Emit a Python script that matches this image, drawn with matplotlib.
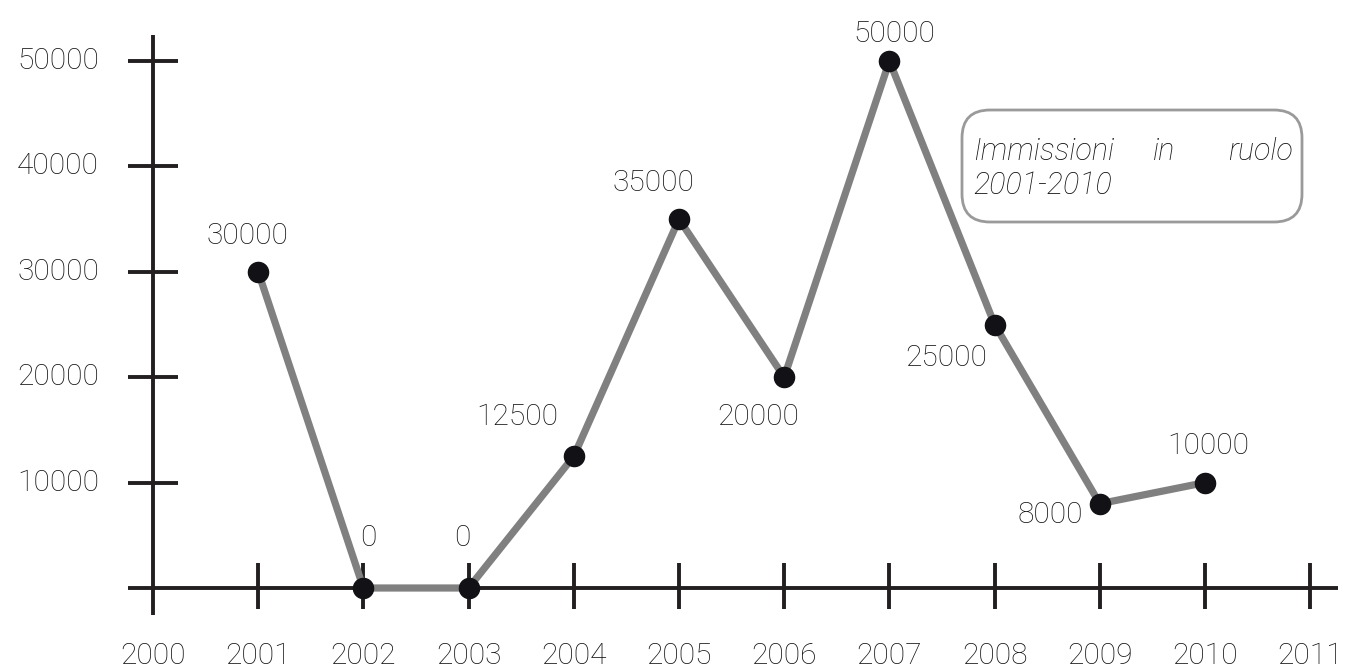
import matplotlib
matplotlib.use("Agg")
import matplotlib.pyplot as plt
from matplotlib.patches import FancyBboxPatch

# Data: teacher hirings per year
years = [2001, 2002, 2003, 2004, 2005, 2006, 2007, 2008, 2009, 2010]
hirings = [30000, 0, 0, 12500, 35000, 20000, 50000, 25000, 8000, 10000]
value_labels = ["30000", "0", "0", "12500", "35000", "20000", "50000", "25000", "8000", "10000"]
x_ticks = list(range(2000, 2012))
y_ticks = [10000, 20000, 30000, 40000, 50000]

# label offsets (pixels) for each point
label_offsets = [(-11, 36), (5, 50), (-6, 50), (-57, 39), (-26, 36), (-26, -40), (5, 27), (-48, -33), (-50, -11), (3, 37)]

plt.rcParams['font.family'] = ['Roboto', 'DejaVu Sans']
FW = 'light'
TXT = "#111111"
AX = "#231f20"
FS = 21.5
W, H, DPI = 1349, 672, 100

fig = plt.figure(figsize=(W / DPI, H / DPI), dpi=DPI)
ax = fig.add_axes([0, 0, 1, 1])
ax.set_axis_off()

# pixel-to-data mapping
x0px, xs = 153, 105.2          # year 2000 at x0px, px per year
y0px, ys = 588, 527 / 50000    # value 0 at y0px, px per unit
ax.set_xlim(2000 - x0px / xs, 2000 + (W - x0px) / xs)
ax.set_ylim(-(H - y0px) / ys, y0px / ys)

def dx(px):
    return px / xs

def dy(px):
    return px / ys

LW = 2.8
# axes lines
ax.plot([2000, 2000], [-dy(27), dy(553)], color=AX, lw=LW, solid_capstyle='butt', zorder=2)
ax.plot([2000 - dx(25), 2000 + dx(1185)], [0, 0], color=AX, lw=LW, solid_capstyle='butt', zorder=2)

# y ticks and labels
for v in y_ticks:
    ax.plot([2000 - dx(25), 2000 + dx(25)], [v, v], color=AX, lw=LW, solid_capstyle='butt', zorder=2)
    ax.text(2000 - dx(95), v, f"{v}", ha='center', va='center', fontsize=FS,
            fontweight=FW, color=TXT)

# x ticks and labels
for yr in x_ticks:
    if yr != 2000:
        ax.plot([yr, yr], [-dy(21), dy(25)], color=AX, lw=LW, solid_capstyle='butt', zorder=2)
    ax.text(yr, -dy(68), f"{yr}", ha='center', va='center', fontsize=FS,
            fontweight=FW, color=TXT)

# data line and markers
ax.plot(years, hirings, color="#808080", lw=5.2, solid_joinstyle='miter', zorder=3)
ax.plot(years, hirings, 'o', color="#121216", markersize=14.5, zorder=4)

for x, y, lab, (ox, oy) in zip(years, hirings, value_labels, label_offsets):
    ax.annotate(lab, (x, y), xytext=(ox, oy), textcoords='offset pixels',
                ha='center', va='center', fontsize=FS, fontweight=FW, color=TXT, zorder=5)

# legend-like rounded box
box = FancyBboxPatch((962, H - 222), 340, 112, boxstyle="round,pad=0,rounding_size=28",
                     transform=None, facecolor='white', edgecolor='#9a9a9a', lw=2, zorder=5)
fig.patches.append(box)
kw = dict(va='center', fontsize=22, style='italic', fontweight=FW, color=TXT, zorder=6)
fig.text(973 / W, 1 - 152 / H, "Immissioni", ha='left', **kw)
fig.text(1164 / W, 1 - 152 / H, "in", ha='center', **kw)
fig.text(1293 / W, 1 - 152 / H, "ruolo", ha='right', **kw)
fig.text(973 / W, 1 - 186 / H, "2001-2010", ha='left', **kw)

fig.savefig("out.png", dpi=DPI)
